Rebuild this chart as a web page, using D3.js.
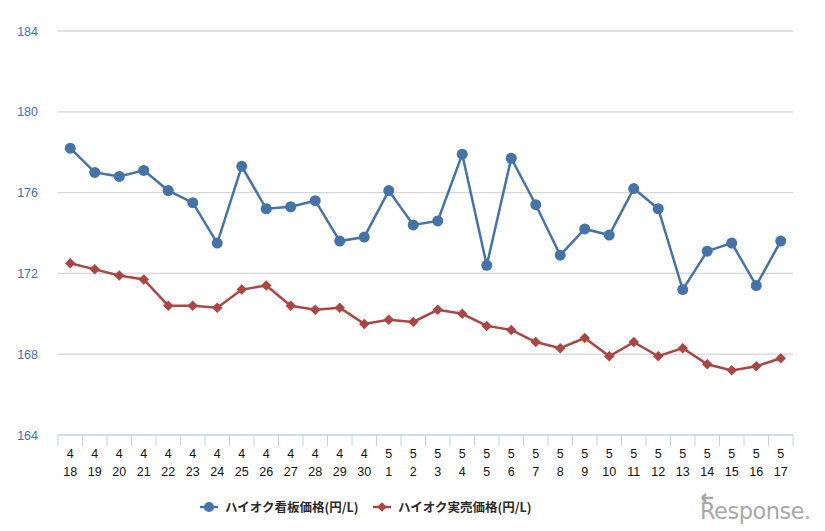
<!DOCTYPE html>
<html>
<head>
<meta charset="utf-8">
<script src="https://cdn.jsdelivr.net/npm/d3@7"></script>
<style>
  body { margin: 0; background: #fff; }
  svg { display: block; font-family: "Liberation Sans", "Noto Sans CJK JP", sans-serif; }
</style>
</head>
<body>
<svg id="chart" width="825" height="531"></svg>
<script>
const width = 825;
const height = 531;
const margin = { left: 58, top: 31, right: 32, bottom: 96 };

// data
const months = [4,4,4,4,4,4,4,4,4,4,4,4,4,5,5,5,5,5,5,5,5,5,5,5,5,5,5,5,5,5];
const days = [18,19,20,21,22,23,24,25,26,27,28,29,30,1,2,3,4,5,6,7,8,9,10,11,12,13,14,15,16,17];
const signPrice = [178.2,177.0,176.8,177.1,176.1,175.5,173.5,177.3,175.2,175.3,175.6,173.6,173.8,
  176.1,174.4,174.6,177.9,172.4,177.7,175.4,172.9,174.2,173.9,176.2,175.2,171.2,173.1,173.5,171.4,173.6];
const salePrice = [172.5,172.2,171.9,171.7,170.4,170.4,170.3,171.2,171.4,170.4,170.2,170.3,169.5,
  169.7,169.6,170.2,170.0,169.4,169.2,168.6,168.3,168.8,167.9,168.6,167.9,168.3,167.5,167.2,167.4,167.8];
const yTicks = [164,168,172,176,180,184];
const seriesNames = ['ハイオク看板価格(円/L)', 'ハイオク実売価格(円/L)'];

const blue = '#4572a7';
const red = '#aa4643';

const svg = d3.select('#chart');
const keys = months.map((m, i) => m + '/' + days[i]);

const x = d3.scaleBand()
  .domain(keys)
  .range([margin.left, width - margin.right])
  .padding(0);

const y = d3.scaleLinear()
  .domain([164, 184])
  .range([height - margin.bottom, margin.top]);

const cx = k => x(k) + x.bandwidth() / 2;

// grid lines
svg.append('g')
  .selectAll('line')
  .data(yTicks.filter(t => t !== 164))
  .enter().append('line')
    .attr('x1', margin.left)
    .attr('x2', width - margin.right)
    .attr('y1', d => y(d))
    .attr('y2', d => y(d))
    .attr('stroke', '#d6d6d6')
    .attr('stroke-width', 1.3);

// y labels
svg.append('g')
  .selectAll('text')
  .data(yTicks)
  .enter().append('text')
    .attr('x', 38)
    .attr('y', d => y(d) + 4.5)
    .attr('text-anchor', 'end')
    .attr('fill', '#4470a8')
    .attr('font-size', 12.5)
    .text(d => d);

// x axis
const axisY = y(164);
const xAxis = svg.append('g');
xAxis.append('line')
  .attr('x1', margin.left).attr('x2', width - margin.right)
  .attr('y1', axisY).attr('y2', axisY)
  .attr('stroke', '#c0d0e0').attr('stroke-width', 1.5);

const bounds = keys.map(k => x(k)).concat([width - margin.right]);
xAxis.selectAll('line.tick')
  .data(bounds)
  .enter().append('line')
    .attr('class', 'tick')
    .attr('x1', d => d).attr('x2', d => d)
    .attr('y1', axisY).attr('y2', axisY + 11)
    .attr('stroke', '#c0d0e0').attr('stroke-width', 1);

const lbl = xAxis.selectAll('g.lbl')
  .data(keys)
  .enter().append('g')
    .attr('class', 'lbl')
    .attr('transform', d => 'translate(' + cx(d) + ',0)');
lbl.append('text')
  .attr('y', axisY + 23)
  .attr('text-anchor', 'middle')
  .attr('font-size', 12.5)
  .attr('fill', '#111')
  .text((d, i) => months[i]);
lbl.append('text')
  .attr('y', axisY + 41)
  .attr('text-anchor', 'middle')
  .attr('font-size', 12.5)
  .attr('fill', '#111')
  .text((d, i) => days[i]);

// lines
const line = d3.line()
  .x((d, i) => cx(keys[i]))
  .y(d => y(d));

svg.append('path')
  .datum(salePrice)
  .attr('d', line)
  .attr('fill', 'none')
  .attr('stroke', red)
  .attr('stroke-width', 2.5);

svg.append('path')
  .datum(signPrice)
  .attr('d', line)
  .attr('fill', 'none')
  .attr('stroke', blue)
  .attr('stroke-width', 2.5);

const diamond = d3.symbol().type(d3.symbolDiamond2).size(70);

svg.append('g')
  .selectAll('path')
  .data(salePrice)
  .enter().append('path')
    .attr('d', diamond)
    .attr('transform', (d, i) => 'translate(' + cx(keys[i]) + ',' + y(d) + ')')
    .attr('fill', red);

svg.append('g')
  .selectAll('circle')
  .data(signPrice)
  .enter().append('circle')
    .attr('cx', (d, i) => cx(keys[i]))
    .attr('cy', d => y(d))
    .attr('r', 5.5)
    .attr('fill', blue);

// legend
const legendY = 507;
const legend = svg.append('g');
const items = [
  { name: seriesNames[0], color: blue, x: 200, shape: 'circle' },
  { name: seriesNames[1], color: red, x: 373, shape: 'diamond' }
];
items.forEach(it => {
  const g = legend.append('g').attr('transform', 'translate(' + it.x + ',' + legendY + ')');
  g.append('line').attr('x1', 0).attr('x2', 18).attr('y1', 0).attr('y2', 0)
    .attr('stroke', it.color).attr('stroke-width', 2.5);
  if (it.shape === 'circle') {
    g.append('circle').attr('cx', 9).attr('cy', 0).attr('r', 5).attr('fill', it.color);
  } else {
    g.append('path').attr('d', d3.symbol().type(d3.symbolDiamond2).size(60))
      .attr('transform', 'translate(9,0)').attr('fill', it.color);
  }
  g.append('text')
    .attr('x', 25).attr('y', 5)
    .attr('font-size', 12.5)
    .attr('font-weight', 'bold')
    .attr('fill', '#2b2b2b')
    .attr('font-family', '"Noto Sans CJK JP", sans-serif')
    .text(it.name);
});

// watermark
const wm = svg.append('g').attr('transform', 'translate(700,519)');
wm.append('text')
  .attr('x', 0).attr('y', 0)
  .attr('font-size', 22.5)
  .attr('fill', '#a8a8a8')
  .attr('font-family', '"DejaVu Sans", sans-serif')
  .attr('letter-spacing', -0.5)
  .text('Response.');
wm.append('path')
  .attr('d', 'M2,-21 L13,-21 M2,-21 L6,-25 M2,-21 L6,-17')
  .attr('stroke', '#a8a8a8').attr('stroke-width', 2.5).attr('fill', 'none');
</script>
</body>
</html>
